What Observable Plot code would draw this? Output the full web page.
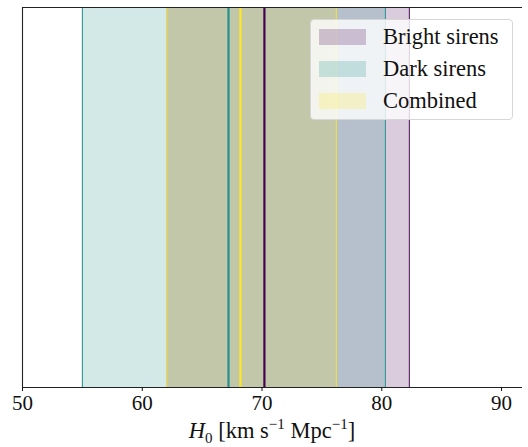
<!DOCTYPE html>
<html>
<head>
<meta charset="utf-8">
<script src="https://cdn.jsdelivr.net/npm/d3@7"></script>
<script src="https://cdn.jsdelivr.net/npm/@observablehq/plot@0.6"></script>
<style>
  body { margin: 0; background: #fff; }
  #wrap { position: relative; width: 528px; height: 447px; font-family: "Liberation Serif", "DejaVu Serif", serif; }
  #legend { position: absolute; left: 310px; top: 19px; width: 203px; height: 101px; background: rgba(255,255,255,0.8); border: 1px solid #d6d6d6; border-radius: 4px; box-sizing: border-box; }
  .item { position: absolute; left: 8px; height: 32px; display: flex; align-items: center; font-size: 22.5px; color: #111; white-space: nowrap; }
  .patch { width: 47px; height: 16px; margin-right: 17px; flex: none; }
  #xlabel { position: absolute; left: 0; width: 544px; top: 416px; text-align: center; font-size: 22.5px; color: #111; white-space: nowrap; }
  #xlabel sub, #xlabel sup { font-size: 15px; }
</style>
</head>
<body>
<div id="wrap">
  <div id="chart"></div>
  <div id="legend"></div>
  <div id="xlabel"><i>H</i><sub>0</sub> [km s<sup>−1</sup> Mpc<sup>−1</sup>]</div>
</div>
<script>
const series = ["Bright sirens", "Dark sirens", "Combined"];
const colors = ["#440154", "#21918c", "#fde725"];
const medians = [70.2, 67.2, 68.2];
const lows = [62.1, 55.0, 62.1];
const highs = [82.3, 80.3, 76.2];
const xTicks = [50, 60, 70, 80, 90];

const data = series.map((s, i) => ({ name: s, color: colors[i], med: medians[i], lo: lows[i], hi: highs[i] }));

const chart = Plot.plot({
  width: 528,
  height: 447,
  marginTop: 7,
  marginBottom: 60,
  marginLeft: 22,
  marginRight: 6,
  style: { fontFamily: "'Liberation Serif', 'DejaVu Serif', serif", fontSize: "21px", color: "#111", background: "transparent" },
  x: { domain: [50, 91.75], ticks: xTicks, tickFormat: d => String(d), label: null },
  y: { domain: [0, 1], axis: null },
  marks: [
    Plot.rect(data, { x1: "lo", x2: "hi", y1: 0, y2: 1, fill: "color", fillOpacity: 0.2 }),
    Plot.ruleX(data, { x: "lo", y1: 0, y2: 1, stroke: "color", strokeWidth: 1 }),
    Plot.ruleX(data, { x: "hi", y1: 0, y2: 1, stroke: "color", strokeWidth: 1 }),
    Plot.ruleX(data, { x: "med", y1: 0, y2: 1, stroke: "color", strokeWidth: 2.2 }),
    Plot.ruleY([0, 1], { stroke: "#222", strokeWidth: 1.1 }),
    Plot.ruleX([50], { y1: 0, y2: 1, stroke: "#222", strokeWidth: 1.1 }),
    Plot.axisX({ ticks: xTicks, tickSize: 4, tickPadding: 4, tickFormat: d => String(d), label: null, fontSize: 21 })
  ]
});
document.getElementById("chart").appendChild(chart);

const legend = document.getElementById("legend");
data.forEach((d, i) => {
  const item = document.createElement("div");
  item.className = "item";
  item.style.top = (1 + i * 32) + "px";
  const patch = document.createElement("div");
  patch.className = "patch";
  patch.style.background = d.color;
  patch.style.opacity = 0.22;
  const label = document.createElement("span");
  label.textContent = d.name;
  item.appendChild(patch);
  item.appendChild(label);
  legend.appendChild(item);
});
</script>
</body>
</html>
